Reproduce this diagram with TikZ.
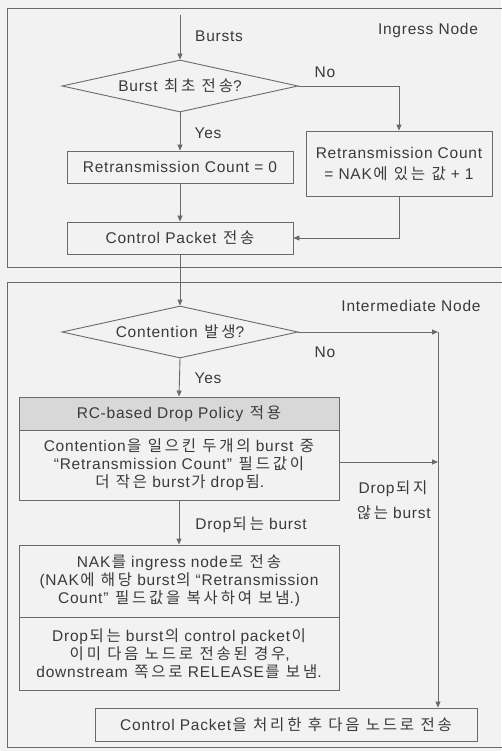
\documentclass[tikz,border=0pt]{standalone}
\usepackage{fontspec}
\setmainfont[LetterSpace=5]{Liberation Sans}
\newfontfamily\kr[Scale=1.0,LetterSpace=18]{Noto Sans CJK KR}
\newcommand{\K}[1]{{\kr\hspace{1.5pt}#1}}
\usetikzlibrary{shapes.geometric,arrows.meta}
\definecolor{ln}{HTML}{6A6A6A}
\definecolor{tx}{HTML}{3A3A3A}
\definecolor{bg}{HTML}{F2F2F2}
\definecolor{hd}{HTML}{D8D8D8}
\begin{document}
\begin{tikzpicture}[x=1pt,y=-1pt,
  font=\fontsize{15.5}{18}\selectfont, text=tx,
  line/.style={draw=ln, line width=0.9pt},
  arr/.style={line, -{Triangle[length=6pt,width=5pt]}},
  box/.style={line, rectangle, inner sep=0pt, align=center},
  dec/.style={line, diamond, inner sep=0pt, shape aspect=4.5, minimum width=236pt, minimum height=52pt},
  lbl/.style={inner sep=0pt, align=center}]
\useasboundingbox (0,0) rectangle (501,751);
\fill[bg] (0,0) rectangle (501,751);
% frames
\draw[line] (505,8) -- (7,8) -- (7,267) -- (505,267);
\draw[line] (505,282) -- (7,282) -- (7,747) -- (505,747);
% ingress
\coordinate (in) at (180,15);
\node[dec] (d1) at (180,86) {Burst \K{최초 전송}?};
\node[box, minimum width=226pt, minimum height=32pt] (b0) at (180,167) {Retransmission Count = 0};
\node[box, minimum width=186pt, minimum height=65pt, font=\fontsize{15.5}{21}\selectfont] (bR) at (399,163.5) {Retransmission Count\\= NAK\K{에 있는 값} + 1};
\node[box, minimum width=226pt, minimum height=32pt] (cp) at (180,238) {Control Packet \K{전송}};
\node[lbl, anchor=west] (lbursts) at (195,36) {Bursts};
\node[lbl] (lingress) at (428,30) {Ingress Node};
\node[lbl] (lno1) at (325,72) {No};
\node[lbl] (lyes1) at (208,133) {Yes};
\draw[arr] (in) -- (d1.north);
\draw[arr] (d1.east) -| (bR.north);
\draw[arr] (d1.south) -- (b0.north);
\draw[arr] (b0.south) -- (cp.north);
\draw[arr] (bR.south) |- (cp.east);
% intermediate
\node[dec] (d2) at (180,332) {Contention \K{발생}?};
\node[box, fill=hd, minimum width=320pt, minimum height=33pt] (rch) at (179,413.5) {RC-based Drop Policy \K{적용}};
\node[box, minimum width=320pt, minimum height=70pt] (rcb) at (179,465) {Contention\K{을 일으킨 두개의} burst \K{중}\\``Retransmission Count'' \K{필드값이}\\\K{더 작은} burst\K{가} drop\K{됨}.};
\node[box, minimum width=320pt, minimum height=72pt] (nak1) at (179,581) {NAK\K{를} ingress node\K{로 전송}\\(NAK\K{에 해당} burst\K{의} ``Retransmission\\Count'' \K{필드값을 복사하여 보냄}.)};
\node[box, minimum width=320pt, minimum height=73pt] (nak2) at (179,653.5) {Drop\K{되는} burst\K{의} control packet\K{이}\\\K{이미 다음 노드로 전송된 경우},\\downstream \K{쪽으로} RELEASE\K{를 보냄}.};
\node[box, minimum width=382pt, minimum height=33pt] (fin) at (286,724.5) {Control Packet\K{을 처리한 후 다음 노드로 전송}};
\coordinate (rr) at (438,332);
\node[lbl] (linter) at (411,306) {Intermediate Node};
\node[lbl] (lno2) at (325,352) {No};
\node[lbl] (lyes2) at (208,378) {Yes};
\node[lbl, font=\fontsize{15.5}{25}\selectfont] (lnd) at (393,500.5) {Drop\K{되지}\\\K{않는} burst};
\node[lbl] (ld) at (251,525) {Drop\K{되는} burst};
\draw[arr] (cp.south) -- (d2.north);
\draw[arr] (d2.east) -- (rr);
\draw[arr] (rr) -- (rr |- fin.north);
\draw[arr] (d2.south) -- (rch.north);
\draw[arr] (rcb.east |- 0,462) -- (rr |- 0,462);
\draw[arr] (rcb.south) -- (nak1.north);
\end{tikzpicture}
\end{document}
